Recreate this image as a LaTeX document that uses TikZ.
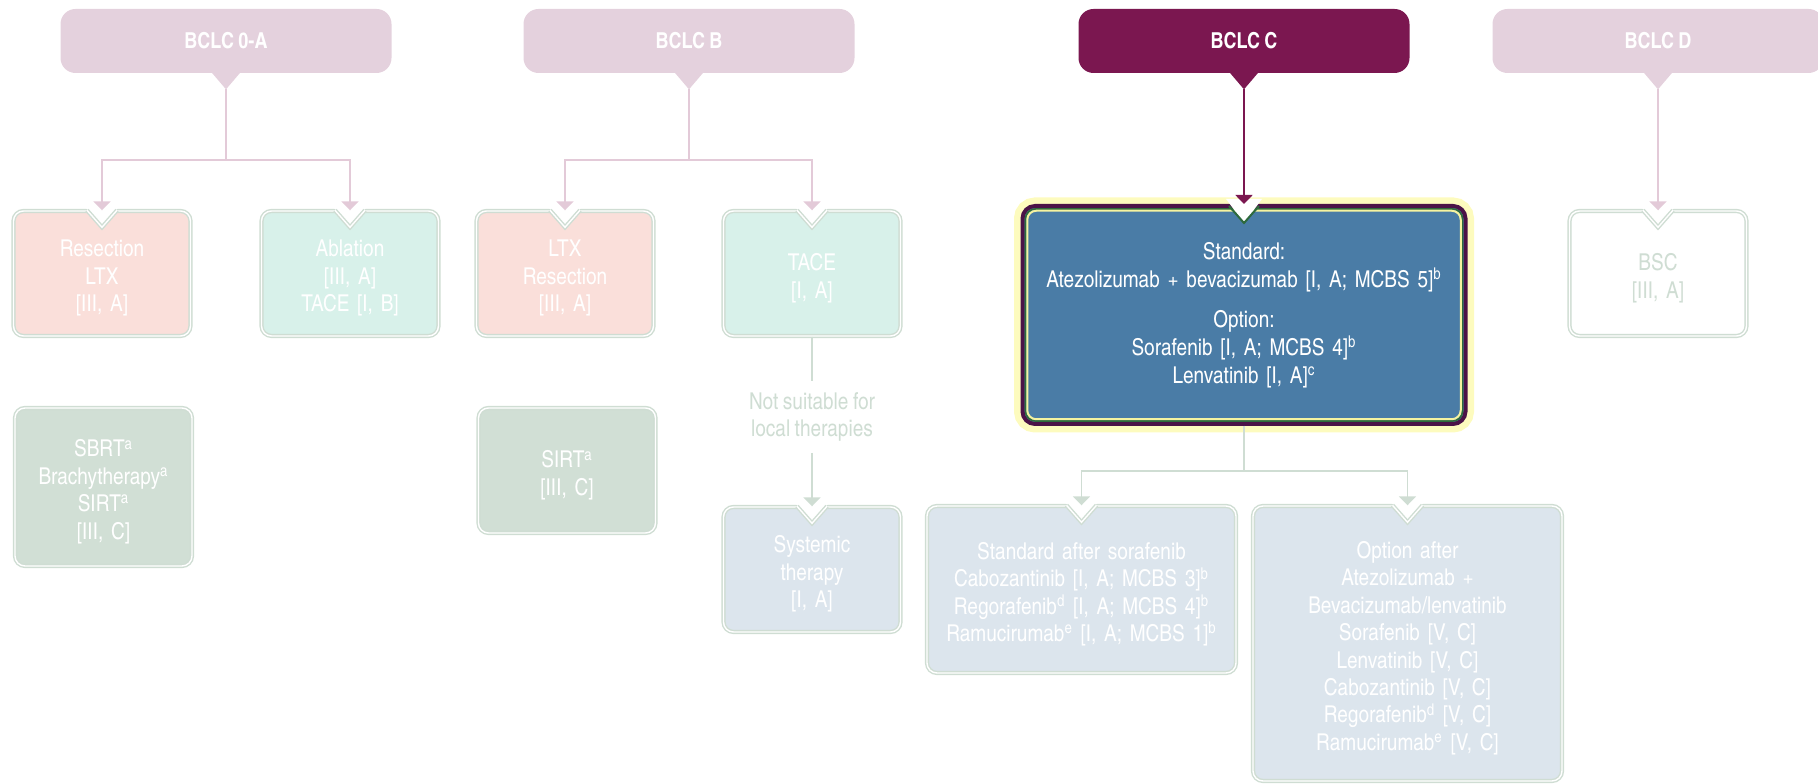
\documentclass[tikz,border=0pt]{standalone}
\usepackage{fontspec}
\setmainfont{texgyreheroscn}[Extension=.otf,UprightFont=*-regular,BoldFont=*-bold,WordSpace=0.85]
\usetikzlibrary{arrows.meta,calc}
\definecolor{hlite}{HTML}{E4D1DD}
\definecolor{hdark}{HTML}{7B1750}
\definecolor{plink}{HTML}{E3CAD8}
\definecolor{gline}{HTML}{CFDDD3}
\definecolor{fres}{HTML}{FADFDA}
\definecolor{fabl}{HTML}{D8F1EA}
\definecolor{fsb}{HTML}{D1DFD5}
\definecolor{fsys}{HTML}{DCE5ED}
\definecolor{fmain}{HTML}{4A7CA6}
\definecolor{mpurp}{HTML}{4B1347}
\definecolor{mgreen}{HTML}{2E6A3C}
\definecolor{myell}{HTML}{F5F3A0}
\definecolor{glow}{HTML}{FDFBBE}

\tikzset{
  stage/.style={rectangle, rounded corners=3mm, minimum width=6.62cm,
                minimum height=1.28cm, text=white,
                font=\fontsize{12.5}{16}\selectfont\bfseries},
  trt/.style={rectangle, rounded corners=2mm, draw=gline, line width=0.8pt,
              double=white, double distance=0.8pt, minimum width=3.54cm,
              minimum height=2.5cm, text width=3.3cm, align=center,
              text=white, font=\fontsize{13.2}{15.6}\selectfont,
              execute at begin node={\rule{0pt}{15pt}}}}

\begin{document}
\begin{tikzpicture}
[>={Triangle[width=0.34cm,length=0.18cm]},
 trtc/.style={rectangle, rounded corners=2.5mm, fill=fmain, draw=mpurp,
              line width=0.08cm, minimum width=8.86cm, minimum height=4.36cm,
              text width=8.4cm, align=center, text=white,
              font=\fontsize{13.2}{16}\selectfont,
              preaction={draw=glow, line width=0.34cm}},
 pline/.style={draw=plink, line width=1.1pt},
 gl/.style={draw=gline, line width=1.1pt}]
\useasboundingbox (0,0) rectangle (36.36,15.68);

\node (h0A) at (4.52,14.86) [stage, fill=hlite] {BCLC 0-A};
\node (hB) at (13.78,14.86) [stage, fill=hlite] {BCLC B};
\node (hC) at (24.88,14.86) [stage, fill=hdark] {BCLC C};
\node (hD) at (33.16,14.86) [stage, fill=hlite] {BCLC D};

\node (res) at (2.04,10.21) [trt, fill=fres] {Resection\\LTX\\{}[III, A]};
\node (abl) at (7.00,10.21) [trt, fill=fabl] {Ablation\\{}[III, A]\\TACE [I, B]};
\node (ltx) at (11.30,10.21) [trt, fill=fres] {LTX\\Resection\\{}[III, A]};
\node (tace) at (16.24,10.21) [trt, fill=fabl] {TACE\\{}[I, A]};
\node (sbrt) at (2.07,5.94) [trt, fill=fsb, minimum height=3.16cm]
  {SBRT\textsuperscript{a}\\Brachytherapy\textsuperscript{a}\\SIRT\textsuperscript{a}\\{}[III, C]};
\node (sirt) at (11.34,6.27) [trt, fill=fsb] {SIRT\textsuperscript{a}\\{}[III, C]};
\node (nots) at (16.24,7.34) [text=gline, align=center, minimum height=1.42cm,
  font=\fontsize{13.2}{15.6}\selectfont] {Not suitable for\\local therapies};
\node (sys) at (16.24,4.29) [trt, fill=fsys] {Systemic\\therapy\\{}[I, A]};

\node (std) at (24.88,9.38) [trtc]
  {Standard:\\Atezolizumab + bevacizumab [I, A; MCBS 5]\textsuperscript{b}\\[0.23cm]
   Option:\\Sorafenib [I, A; MCBS 4]\textsuperscript{b}\\Lenvatinib [I, A]\textsuperscript{c}};
\node (bsc) at (33.16,10.21) [trt, fill=white, text=gline] {BSC\\{}[III, A]};
\node (stdso) at (21.63,3.89) [trt, fill=fsys, minimum width=6.18cm,
  minimum height=3.34cm, text width=5.9cm]
  {Standard after sorafenib\\Cabozantinib [I, A; MCBS 3]\textsuperscript{b}\\
   Regorafenib\textsuperscript{d} [I, A; MCBS 4]\textsuperscript{b}\\
   Ramucirumab\textsuperscript{e} [I, A; MCBS 1]\textsuperscript{b}};
\node (optaf) at (28.15,2.81) [trt, fill=fsys, minimum width=6.18cm,
  minimum height=5.5cm, text width=5.9cm]
  {Option after\\Atezolizumab +\\Bevacizumab/lenvatinib\\Sorafenib [V, C]\\
   Lenvatinib [V, C]\\Cabozantinib [V, C]\\Regorafenib\textsuperscript{d} [V, C]\\
   Ramucirumab\textsuperscript{e} [V, C]};

\draw[mgreen, line width=0.035cm, rounded corners=2mm]
  ($(std.north west)+(0.1,-0.1)$) rectangle ($(std.south east)+(-0.1,0.1)$);
\draw[myell, line width=0.04cm, rounded corners=1.8mm]
  ($(std.north west)+(0.135,-0.135)$) rectangle ($(std.south east)+(-0.135,0.135)$);

\foreach \h/\c in {h0A/hlite,hB/hlite,hC/hdark,hD/hlite}
  \fill[\c] ($(\h.south)+(-0.29,0.02)$) -- ($(\h.south)+(0.29,0.02)$)
    -- ($(\h.south)+(0,-0.32)$) coordinate (\h-tip) -- cycle;

\foreach \n in {res,abl,ltx,tace,sys,bsc,stdso,optaf} {
  \fill[white] ($(\n.north)+(-0.36,0.1)$) -- ($(\n.north)+(0.36,0.1)$)
    -- ($(\n.north)+(0,-0.34)$) -- cycle;
  \draw[gline, line width=0.8pt, double=white, double distance=0.8pt]
    ($(\n.north)+(-0.3,0)$) -- ($(\n.north)+(0,-0.34)$) -- ($(\n.north)+(0.3,0)$);
}
\fill[white] ($(std.north)+(-0.36,0.1)$) -- ($(std.north)+(0.36,0.1)$)
  -- ($(std.north)+(0,-0.38)$) -- cycle;
\draw[mgreen, line width=0.04cm]
  ($(std.north)+(-0.3,-0.04)$) -- ($(std.north)+(0,-0.38)$) -- ($(std.north)+(0.3,-0.04)$);

\draw[pline,->] (h0A-tip) -- ++(0,-1.42) -| (res.north);
\draw[pline,->] (h0A-tip) -- ++(0,-1.42) -| (abl.north);
\draw[pline,->] (hB-tip) -- ++(0,-1.42) -| (ltx.north);
\draw[pline,->] (hB-tip) -- ++(0,-1.42) -| (tace.north);
\draw[draw=hdark, line width=1.1pt, ->] (hC-tip) -- (std.north);
\draw[pline,->] (hD-tip) -- (bsc.north);
\draw[gl] (tace) -- (nots);
\draw[gl,->] (nots) -- (sys);
\draw[gl,->] (std.south) -- ++(0,-0.9) -| (stdso.north);
\draw[gl,->] (std.south) -- ++(0,-0.9) -| (optaf.north);
\end{tikzpicture}
\end{document}
